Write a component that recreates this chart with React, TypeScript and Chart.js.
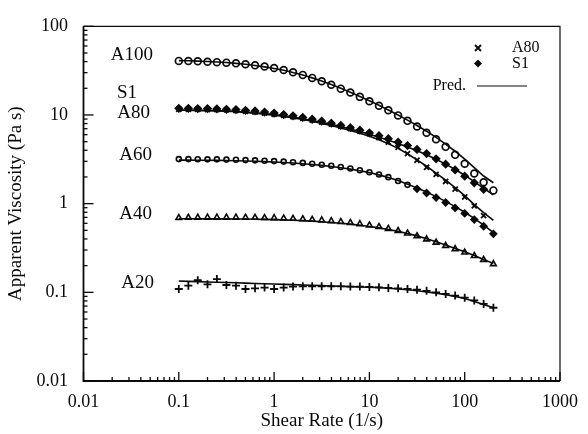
import React, { useEffect, useRef } from 'react';
import { Chart, registerables } from 'chart.js';

Chart.register(...registerables);

// ---------- data ----------
const shearRate = [0.1, 0.126, 0.158, 0.2, 0.251, 0.316, 0.398, 0.501, 0.631, 0.794, 1, 1.26, 1.58, 2, 2.51, 3.16, 3.98, 5.01, 6.31, 7.94, 10, 12.6, 15.8, 20, 25.1, 31.6, 39.8, 50.1, 63.1, 79.4, 100, 126, 158, 200];

const a100 = [40.7, 40.6, 40.3, 39.9, 39.4, 38.9, 38.2, 37.3, 36.3, 35.2, 33.9, 32.2, 30.3, 28.3, 26.2, 24.0, 21.9, 19.8, 17.9, 16.0, 14.3, 12.7, 11.3, 9.89, 8.59, 7.40, 6.31, 5.33, 4.37, 3.55, 2.82, 2.19, 1.74, 1.41];
const a100Pred = [41.0, 40.8, 40.5, 40.1, 39.6, 39.0, 38.2, 37.3, 36.2, 34.9, 33.5, 31.9, 30.1, 28.2, 26.2, 24.1, 22.0, 20.0, 18.0, 16.2, 14.5, 12.9, 11.4, 10.0, 8.75, 7.60, 6.55, 5.58, 4.70, 3.90, 3.18, 2.55, 2.05, 1.72];

const s1 = [11.9, 11.9, 11.8, 11.8, 11.7, 11.6, 11.5, 11.3, 11.1, 10.8, 10.5, 10.1, 9.77, 9.38, 8.95, 8.51, 8.07, 7.62, 7.18, 6.73, 6.28, 5.83, 5.40, 4.95, 4.52, 4.09, 3.67, 3.20, 2.79, 2.40, 2.04, 1.72, 1.45];
const s1Pred = [11.4, 11.4, 11.3, 11.3, 11.2, 11.1, 11.0, 10.8, 10.6, 10.4, 10.1, 9.80, 9.45, 9.08, 8.68, 8.26, 7.83, 7.39, 6.94, 6.49, 6.05, 5.61, 5.18, 4.76, 4.35, 3.95, 3.56, 3.17, 2.79, 2.43, 2.09, 1.77, 1.49, 1.26];

const a80 = [11.6, 11.6, 11.6, 11.5, 11.5, 11.4, 11.2, 11.0, 10.8, 10.5, 10.2, 9.89, 9.55, 9.16, 8.75, 8.32, 7.89, 7.45, 7.01, 6.58, 6.17, 5.56, 4.95, 4.32, 3.67, 3.09, 2.57, 2.14, 1.78, 1.46, 1.19, 0.944, 0.733];
const a80Pred = [11.3, 11.3, 11.2, 11.2, 11.1, 11.0, 10.9, 10.7, 10.5, 10.2, 9.95, 9.63, 9.28, 8.90, 8.48, 8.04, 7.59, 7.13, 6.67, 6.21, 5.75, 5.26, 4.74, 4.20, 3.65, 3.12, 2.64, 2.21, 1.84, 1.52, 1.23, 0.977, 0.794, 0.646];

const a60 = [3.18, 3.18, 3.17, 3.16, 3.16, 3.14, 3.13, 3.10, 3.08, 3.05, 3.02, 2.98, 2.93, 2.88, 2.82, 2.75, 2.68, 2.59, 2.49, 2.38, 2.26, 2.13, 1.99, 1.80, 1.63, 1.47, 1.32, 1.17, 1.03, 0.895, 0.776, 0.661, 0.556, 0.457];
const a60Pred = [3.10, 3.10, 3.09, 3.09, 3.08, 3.07, 3.05, 3.03, 3.01, 2.98, 2.95, 2.91, 2.87, 2.82, 2.76, 2.70, 2.62, 2.54, 2.45, 2.35, 2.24, 2.11, 1.97, 1.82, 1.66, 1.50, 1.35, 1.20, 1.06, 0.925, 0.800, 0.683, 0.574, 0.472];

const a40 = [0.692, 0.695, 0.697, 0.698, 0.698, 0.698, 0.698, 0.697, 0.695, 0.692, 0.689, 0.684, 0.678, 0.670, 0.661, 0.650, 0.638, 0.624, 0.608, 0.590, 0.570, 0.548, 0.522, 0.494, 0.463, 0.431, 0.397, 0.365, 0.335, 0.308, 0.282, 0.258, 0.233, 0.209];
const a40Pred = [0.675, 0.675, 0.675, 0.674, 0.674, 0.673, 0.672, 0.670, 0.668, 0.665, 0.661, 0.656, 0.650, 0.643, 0.635, 0.625, 0.614, 0.601, 0.587, 0.571, 0.553, 0.533, 0.511, 0.487, 0.461, 0.433, 0.403, 0.372, 0.342, 0.313, 0.286, 0.260, 0.235, 0.212];

const a20 = [0.109, 0.119, 0.137, 0.123, 0.141, 0.121, 0.119, 0.109, 0.111, 0.113, 0.109, 0.113, 0.116, 0.117, 0.117, 0.117, 0.117, 0.117, 0.116, 0.116, 0.115, 0.114, 0.112, 0.111, 0.109, 0.107, 0.104, 0.100, 0.096, 0.092, 0.087, 0.081, 0.074, 0.067];
const a20Pred = [0.134, 0.133, 0.132, 0.131, 0.130, 0.129, 0.128, 0.127, 0.126, 0.125, 0.124, 0.123, 0.122, 0.121, 0.120, 0.119, 0.118, 0.117, 0.116, 0.115, 0.114, 0.113, 0.111, 0.109, 0.107, 0.104, 0.101, 0.098, 0.094, 0.090, 0.085, 0.079, 0.073, 0.067];

const xTickValues = [0.01, 0.1, 1, 10, 100, 1000];
const xTickLabels = ['0.01', '0.1', '1', '10', '100', '1000'];
const yTickValues = [0.01, 0.1, 1, 10, 100];
const yTickLabels = ['0.01', '0.1', '1', '10', '100'];

const seriesLabels = ['A100', 'S1', 'A80', 'A60', 'A40', 'A20'];
const legendLabels = ['A80', 'S1', 'Pred.'];
const xTitle = 'Shear Rate (1/s)';
const yTitle = 'Apparent Viscosity (Pa s)';

// ---------- helpers ----------
const FONT = "'Liberation Serif', 'Times New Roman', serif";
const INK = '#0a0a0a';

const toPoints = (vals: number[]) => vals.map((v, i) => ({ x: shearRate[i], y: v }));
const labelFor = (v: number, vals: number[], labels: string[]) => {
  const i = vals.findIndex((t) => Math.abs(Math.log10(t) - Math.log10(v)) < 1e-6);
  return i >= 0 ? labels[i] : '';
};

const decorPlugin = {
  id: 'decor',
  afterDraw(chart: any) {
    const { ctx, chartArea } = chart;
    const { left, right, top, bottom } = chartArea;
    const xs = chart.scales.x;
    const ys = chart.scales.y;
    ctx.save();
    ctx.strokeStyle = INK;
    // frame
    ctx.lineWidth = 1.8;
    ctx.beginPath();
    ctx.moveTo(left, top);
    ctx.lineTo(left, bottom);
    ctx.lineTo(right, bottom);
    ctx.stroke();
    ctx.lineWidth = 1.2;
    ctx.beginPath();
    ctx.moveTo(left, top);
    ctx.lineTo(right, top);
    ctx.lineTo(right, bottom);
    ctx.stroke();

    // inward ticks
    ctx.lineWidth = 1.3;
    for (let d = -2; d <= 3; d++) {
      for (let m = 1; m <= 9; m++) {
        const v = m * Math.pow(10, d);
        if (v > 1000.0001) break;
        const px = xs.getPixelForValue(v);
        const len = m === 1 ? 9 : 4;
        ctx.beginPath();
        ctx.moveTo(px, bottom);
        ctx.lineTo(px, bottom - len);
        ctx.stroke();
      }
    }
    for (let d = -2; d <= 2; d++) {
      for (let m = 1; m <= 9; m++) {
        const v = m * Math.pow(10, d);
        if (v > 100.0001) break;
        const py = ys.getPixelForValue(v);
        const len = m === 1 ? 10 : 4;
        ctx.beginPath();
        ctx.moveTo(left, py);
        ctx.lineTo(left + len, py);
        ctx.stroke();
      }
    }

    // series labels
    ctx.fillStyle = INK;
    ctx.font = `19px ${FONT}`;
    ctx.textBaseline = 'middle';
    ctx.textAlign = 'right';
    ctx.fillText(seriesLabels[0], 153, 55);
    ctx.fillText(seriesLabels[2], 150, 113);
    ctx.fillText(seriesLabels[3], 152, 155);
    ctx.fillText(seriesLabels[4], 152, 214);
    ctx.fillText(seriesLabels[5], 154, 283);
    ctx.textAlign = 'center';
    ctx.fillText(seriesLabels[1], 127, 93);

    // legend
    ctx.font = `16px ${FONT}`;
    ctx.textAlign = 'left';
    ctx.fillText(legendLabels[0], 512, 48);
    ctx.fillText(legendLabels[1], 512, 64);
    ctx.textAlign = 'right';
    ctx.fillText(legendLabels[2], 466, 86);
    ctx.lineWidth = 1.9;
    ctx.beginPath();
    ctx.moveTo(475, 45);
    ctx.lineTo(481, 51);
    ctx.moveTo(481, 45);
    ctx.lineTo(475, 51);
    ctx.stroke();
    ctx.beginPath();
    ctx.moveTo(478, 59.5);
    ctx.lineTo(482, 63.5);
    ctx.lineTo(478, 67.5);
    ctx.lineTo(474, 63.5);
    ctx.closePath();
    ctx.fill();
    ctx.lineWidth = 1.1;
    ctx.beginPath();
    ctx.moveTo(477, 86);
    ctx.lineTo(527, 86);
    ctx.stroke();
    ctx.restore();
  },
};

export default function App() {
  const canvasRef = useRef<HTMLCanvasElement | null>(null);

  useEffect(() => {
    const canvas = canvasRef.current;
    if (!canvas) return;

    const lineDs = (vals: number[]) => ({
      type: 'line' as const,
      data: toPoints(vals),
      showLine: true,
      borderColor: INK,
      borderWidth: 1.6,
      pointRadius: 0,
      fill: false,
      order: 0,
    });
    const pointDs = (vals: number[], style: any, radius: number, filled: boolean, bw = 1.6) => ({
      type: 'scatter' as const,
      data: toPoints(vals),
      showLine: false,
      pointStyle: style,
      pointRadius: radius,
      borderColor: INK,
      backgroundColor: filled ? INK : 'rgba(0,0,0,0)',
      borderWidth: bw,
      order: 1,
    });

    const chart = new Chart(canvas, {
      type: 'scatter',
      data: {
        datasets: [
          lineDs(a100Pred),
          lineDs(s1Pred),
          lineDs(a80Pred),
          lineDs(a60Pred),
          lineDs(a40Pred),
          lineDs(a20Pred),
          pointDs(a100, 'circle', 3.4, false, 1.7),
          pointDs(s1, 'rectRot', 3.5, true),
          pointDs(a80, 'crossRot', 3.6, false, 1.8),
          {
            ...pointDs(a60, 'circle', 2.5, false, 1.6),
            pointStyle: (c: any) => (c.dataIndex < 25 ? 'circle' : 'rectRot'),
            backgroundColor: (c: any) => (c.dataIndex < 25 ? 'rgba(0,0,0,0)' : INK),
            pointRadius: (c: any) => (c.dataIndex < 25 ? 2.5 : 3.3),
          },
          pointDs(a40, 'triangle', 3.3, false, 1.6),
          pointDs(a20, 'cross', 4, false, 1.8),
        ] as any,
      },
      options: {
        animation: false,
        responsive: false,
        maintainAspectRatio: false,
        events: [],
        layout: { padding: { left: 0, right: 20.5, top: 19.5, bottom: 0 } },
        plugins: { legend: { display: false }, tooltip: { enabled: false } },
        scales: {
          x: {
            type: 'logarithmic',
            position: 'bottom',
            min: 0.01,
            max: 1000,
            afterBuildTicks: (s: any) => {
              s.ticks = xTickValues.map((v) => ({ value: v }));
            },
            afterFit: (s: any) => {
              s.height = 53;
            },
            grid: { display: false, drawTicks: false },
            border: { display: false },
            ticks: {
              autoSkip: false,
              maxRotation: 0,
              padding: 10,
              color: INK,
              font: { family: FONT, size: 18 },
              callback: (v: any) => labelFor(Number(v), xTickValues, xTickLabels),
            },
            title: {
              display: true,
              text: xTitle,
              color: INK,
              font: { family: FONT, size: 19 },
              padding: { top: 0, bottom: 2 },
            },
          },
          y: {
            type: 'logarithmic',
            position: 'left',
            min: 0.01,
            max: 100,
            afterBuildTicks: (s: any) => {
              s.ticks = yTickValues.map((v) => ({ value: v }));
            },
            afterFit: (s: any) => {
              s.width = 83.5;
            },
            grid: { display: false, drawTicks: false },
            border: { display: false },
            ticks: {
              autoSkip: false,
              padding: 15.5,
              color: INK,
              font: { family: FONT, size: 18 },
              callback: (v: any) => labelFor(Number(v), yTickValues, yTickLabels),
            },
            title: {
              display: true,
              text: yTitle,
              color: INK,
              font: { family: FONT, size: 19 },
              padding: { top: 5, bottom: 0 },
            },
          },
        },
      } as any,
      plugins: [decorPlugin],
    });

    return () => chart.destroy();
  }, []);

  return (
    <div style={{ position: 'absolute', left: 0, top: 0, width: 588, height: 434, background: '#fff' }}>
      <canvas ref={canvasRef} width={588} height={434} style={{ display: 'block', width: 588, height: 434 }} />
    </div>
  );
}
